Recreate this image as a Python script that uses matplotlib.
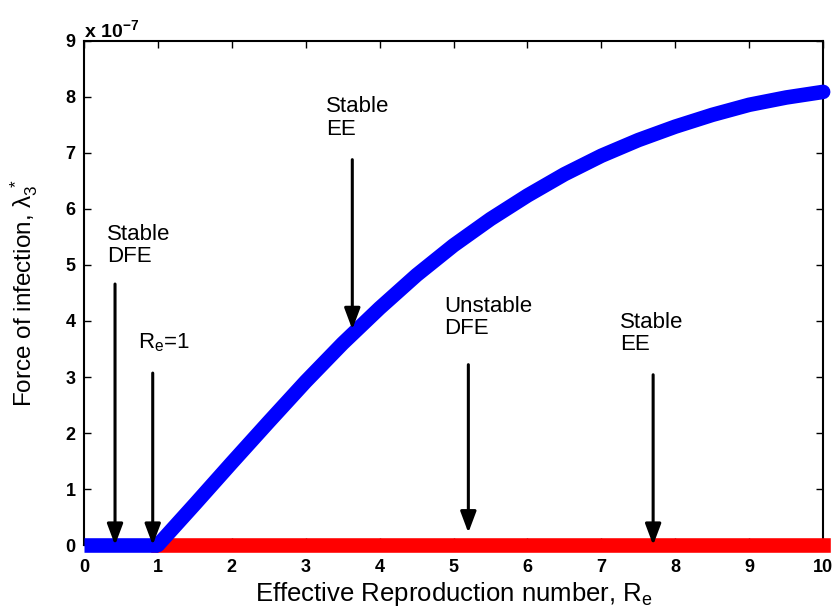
import matplotlib
matplotlib.use("Agg")
import matplotlib.pyplot as plt
import numpy as np

plt.rcParams['font.family'] = ['Liberation Sans', 'DejaVu Sans']
plt.rcParams['mathtext.fontset'] = 'custom'
plt.rcParams['mathtext.rm'] = 'Liberation Sans'
plt.rcParams['mathtext.it'] = 'Liberation Sans:italic'
plt.rcParams['mathtext.bf'] = 'Liberation Sans:bold'

# endemic branch of lambda_3* against R_e (units of 1e-7)
re_ee = [1.0, 1.5, 2.0, 2.5, 3.0, 3.5, 4.0, 4.5, 5.0, 5.5,
         6.0, 6.5, 7.0, 7.5, 8.0, 8.5, 9.0, 9.5, 10.0]
lam_ee = [0.0, 0.73, 1.47, 2.20, 2.92, 3.60, 4.23, 4.82, 5.35, 5.82,
          6.24, 6.62, 6.95, 7.23, 7.47, 7.68, 7.86, 7.99, 8.09]

# disease free branch: stable below R_e=1, unstable above
re_dfe_stable = [0.0, 1.0]
lam_dfe_stable = [0.0, 0.0]
re_dfe_unstable = [1.0, 10.0]
lam_dfe_unstable = [0.0, 0.0]

# annotations: label, text pos, arrow top, arrow tip
notes = [
    ("Stable\nDFE",   (0.31, 5.35), (0.42, 4.66), (0.42, 0.0)),
    ("$\\mathrm{R_e}$=1", (0.73, 3.62), (0.93, 3.07), (0.93, 0.0)),
    ("Stable\nEE",    (3.27, 7.62), (3.63, 6.88), (3.63, 3.85)),
    ("Unstable\nDFE", (4.87, 4.06), (5.20, 3.22), (5.20, 0.22)),
    ("Stable\nEE",    (7.25, 3.78), (7.70, 3.04), (7.70, 0.0)),
]

fig = plt.figure(figsize=(8.39, 6.09), dpi=100)
ax = fig.add_axes([0.1001, 0.105, 0.881, 0.8278])

ax.plot(re_dfe_unstable, lam_dfe_unstable, color='#ff0000', lw=10.5,
        solid_capstyle='projecting', zorder=4, clip_on=False)
ax.plot(re_dfe_stable, lam_dfe_stable, color='#0000ff', lw=10.5,
        solid_capstyle='butt', zorder=5, clip_on=False)
ax.plot(re_ee, lam_ee, color='#0000ff', lw=10.5, solid_joinstyle='round',
        solid_capstyle='round', zorder=5, clip_on=False)

for label, tpos, top, tip in notes:
    ax.text(tpos[0], tpos[1], label, fontsize=16, ha='left', va='center',
            linespacing=1.1, zorder=6)
    ax.annotate('', xy=tip, xytext=top,
                arrowprops=dict(arrowstyle='-|>,head_length=0.8,head_width=0.3',
                                color='black', lw=2.2, mutation_scale=16,
                                shrinkA=0, shrinkB=0),
                zorder=7)

ax.set_xlim(0, 10)
ax.set_ylim(0, 9)
ax.set_xticks(np.arange(0, 11, 1))
ax.set_yticks(np.arange(0, 10, 1))
ax.tick_params(direction='in', length=5, width=1, top=True, right=True,
               labelsize=13, pad=6)
ax.tick_params(axis='x', pad=10)
for lab in ax.get_xticklabels() + ax.get_yticklabels():
    lab.set_fontweight('bold')
for sp in ax.spines.values():
    sp.set_linewidth(1.5)

ax.text(0.0, 1.0, r'x 10$^{\mathbf{-7}}$', transform=ax.transAxes,
        fontsize=14, fontweight='bold', ha='left', va='bottom')

ax.set_xlabel(r'Effective Reproduction number, R$_\mathrm{e}$', fontsize=18.5,
              labelpad=3)
ax.set_ylabel(r'Force of infection, $\mathrm{\lambda}_3^{\ *}$', fontsize=17.5)
ax.yaxis.set_label_coords(-0.06, 0.5)

fig.savefig('out.png', dpi=100)
